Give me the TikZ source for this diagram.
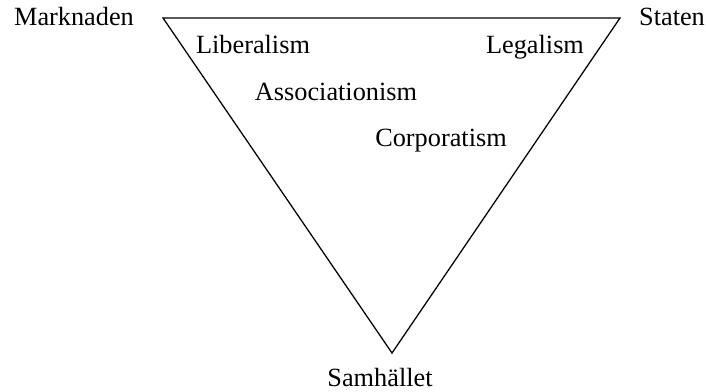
\documentclass[tikz,border=0pt]{standalone}
\usepackage{fontspec}
\setmainfont{Liberation Serif}
\usetikzlibrary{positioning}

\begin{document}
\begin{tikzpicture}[lbl/.style={inner sep=0pt,anchor=base,font=\fontsize{18.7}{22}\selectfont}]
\useasboundingbox (0,0) rectangle (17.65,9.775);
\coordinate (m) at (4.075,9.325);
\coordinate (s) at (15.5,9.325);
\coordinate (h) at (9.8,0.95);
\draw[line width=0.9pt] (m)--(s)--(h)--cycle;
\node[lbl] (mark) at (1.85,9.15) {Marknaden};
\node[lbl] (stat) at (16.8,9.15) {Staten};
\node[lbl] (samh) at (9.5,0.125) {Samhället};
\node[lbl] (lib) at (6.325,8.45) {Liberalism};
\node[lbl] (leg) at (13.375,8.45) {Legalism};
\node[lbl] (ass) at (8.4,7.275) {Associationism};
\node[lbl] (cor) at (11.025,6.125) {Corporatism};
\end{tikzpicture}
\end{document}
